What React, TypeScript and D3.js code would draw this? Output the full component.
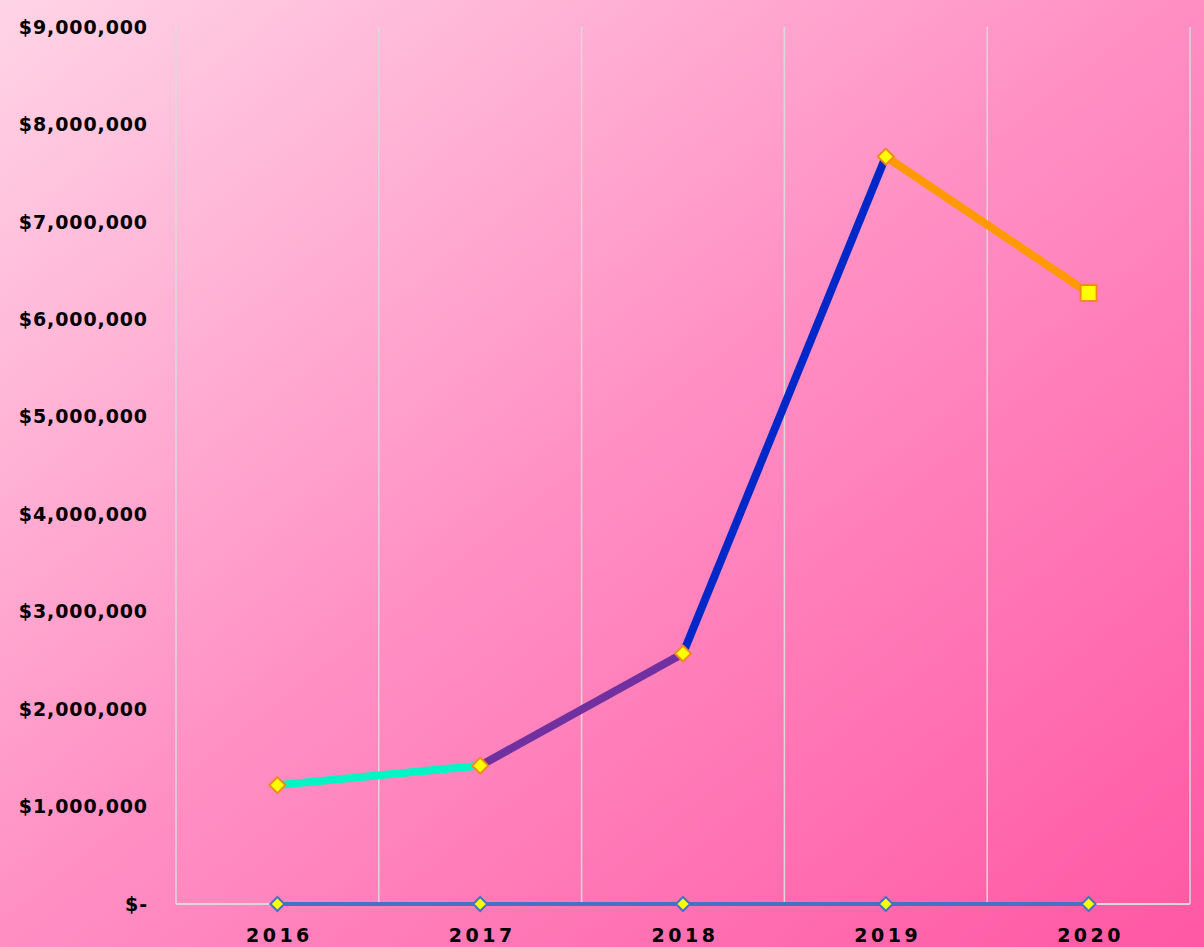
import React from "react";
import * as d3 from "d3";

const years = ["2016", "2017", "2018", "2019", "2020"];
const revenue = [1220000, 1420000, 2570000, 7670000, 6270000];
const baseline = [0, 0, 0, 0, 0];
const segmentColors = ["#00F5C4", "#7030A0", "#0028C8", "#FF9900"];
const yTicks = [0, 1000000, 2000000, 3000000, 4000000, 5000000, 6000000, 7000000, 8000000, 9000000];

const W = 1204;
const H = 947;
const left = 176;
const right = 1190;
const top = 27;
const bottom = 904;
const FONT = "'DejaVu Sans', Verdana, sans-serif";

export default function App() {
  const x = d3.scaleBand().domain(years).range([left, right]).padding(0);
  const y = d3.scaleLinear().domain([0, 9000000]).range([bottom, top]);
  const cx = (d: string) => (x(d) as number) + x.bandwidth() / 2;
  const fmt = (v: number) => (v === 0 ? "$-" : "$" + d3.format(",")(v));
  const diamond = (px: number, py: number, r: number) =>
    `M${px},${py - r}L${px + r},${py}L${px},${py + r}L${px - r},${py}Z`;
  const baseLine = d3.line<number>().x((_, i) => cx(years[i])).y((v) => y(v));

  return (
    <svg width={W} height={H} style={{ position: "absolute", left: 0, top: 0, display: "block" }}>
      <defs>
        <linearGradient id="bg" x1="0" y1="0" x2="1" y2="1">
          <stop offset="0%" stopColor="#FFD4E6" />
          <stop offset="50%" stopColor="#FF8EC3" />
          <stop offset="100%" stopColor="#FF57A3" />
        </linearGradient>
      </defs>
      <rect x={0} y={0} width={W} height={H} fill="url(#bg)" />
      {[...years.map((d) => x(d) as number), right].map((gx, i) => (
        <line key={i} x1={gx} x2={gx} y1={top} y2={bottom} stroke="#D9D9D9" strokeWidth={1.5} />
      ))}
      <line x1={left} x2={right} y1={bottom} y2={bottom} stroke="#D9D9D9" strokeWidth={2} />
      {yTicks.map((t) => (
        <text
          key={t}
          x={148}
          y={y(t)}
          dy="0.35em"
          textAnchor="end"
          fontFamily={FONT}
          fontWeight={700}
          fontSize={19}
          letterSpacing={0.9}
          fill="#000"
        >
          {fmt(t)}
        </text>
      ))}
      {years.map((d) => (
        <text
          key={d}
          x={cx(d) + 2}
          y={942}
          textAnchor="middle"
          fontFamily={FONT}
          fontWeight={700}
          fontSize={19}
          letterSpacing={3.5}
          fill="#000"
        >
          {d}
        </text>
      ))}
      <path d={baseLine(baseline) || ""} fill="none" stroke="#4472C4" strokeWidth={4} />
      {baseline.map((v, i) => (
        <path key={i} d={diamond(cx(years[i]), y(v), 7)} fill="#FFFF00" stroke="#4472C4" strokeWidth={2} />
      ))}
      {revenue.slice(0, -1).map((v, i) => (
        <line
          key={i}
          x1={cx(years[i])}
          y1={y(v)}
          x2={cx(years[i + 1])}
          y2={y(revenue[i + 1])}
          stroke={segmentColors[i]}
          strokeWidth={8}
        />
      ))}
      {revenue.map((v, i) =>
        i === revenue.length - 1 ? (
          <rect
            key={i}
            x={cx(years[i]) - 8}
            y={y(v) - 8}
            width={16}
            height={16}
            fill="#FFFF00"
            stroke="#F08A1E"
            strokeWidth={2}
          />
        ) : (
          <path key={i} d={diamond(cx(years[i]), y(v), 8)} fill="#FFFF00" stroke="#F08A1E" strokeWidth={2} />
        )
      )}
    </svg>
  );
}
